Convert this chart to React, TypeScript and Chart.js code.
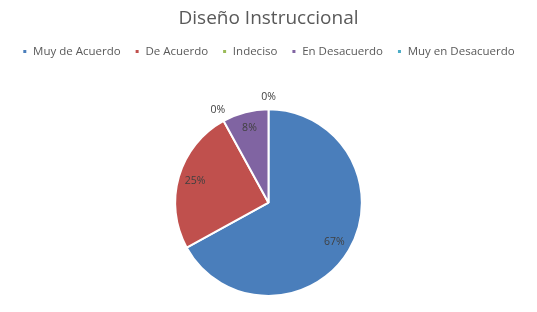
import React, { useEffect, useRef } from "react";
import { Chart, registerables } from "chart.js";

Chart.register(...registerables);

const categories = ["Muy de Acuerdo", "De Acuerdo", "Indeciso", "En Desacuerdo", "Muy en Desacuerdo"];
const values = [67, 25, 0, 8, 0];
const colors = ["#4A7EBB", "#C0504D", "#9BBB59", "#8064A2", "#4BACC6"];
const chartTitle = "Diseño Instruccional";

const FONT = "'Open Sans', 'Liberation Sans', sans-serif";

const labelPlugin = {
  id: "pctLabels",
  afterDatasetsDraw(chart: any) {
    const ctx = chart.ctx;
    const meta = chart.getDatasetMeta(0);
    const data = chart.data.datasets[0].data as number[];
    const total = data.reduce((a: number, b: number) => a + b, 0);
    ctx.save();
    ctx.font = `10.5px ${FONT}`;
    ctx.fillStyle = "#404040";
    ctx.textAlign = "center";
    ctx.textBaseline = "middle";
    meta.data.forEach((arc: any, i: number) => {
      const p = arc.getProps(["x", "y", "startAngle", "endAngle", "outerRadius"], true);
      const mid = (p.startAngle + p.endAngle) / 2;
      const v = data[i];
      const r = v === 0 ? p.outerRadius + 12 : p.outerRadius * 0.82;
      const x = p.x + Math.cos(mid) * r;
      const y = p.y + Math.sin(mid) * r;
      ctx.fillText(Math.round((v / total) * 100) + "%", x, y);
    });
    ctx.restore();
  },
};

const legendGap = {
  id: "legendGap",
  beforeInit(chart: any) {
    const legend = chart.legend;
    const origFit = legend.fit;
    legend.fit = function () {
      origFit.call(this);
      this.height += 41;
    };
  },
};

export default function App() {
  const ref = useRef<HTMLCanvasElement>(null);
  useEffect(() => {
    document.body.style.margin = "0";
    const chart = new Chart(ref.current!, {
      type: "pie",
      data: {
        labels: categories,
        datasets: [
          {
            data: values,
            backgroundColor: colors,
            borderColor: "#ffffff",
            borderWidth: 2,
          },
        ],
      },
      options: {
        animation: false,
        responsive: false,
        layout: { padding: { top: 0, bottom: 15, left: 0, right: 0 } },
        plugins: {
          title: {
            display: true,
            text: chartTitle,
            color: "#595959",
            font: { family: FONT, size: 19, weight: "normal" },
            padding: { top: 7, bottom: 2 },
          },
          legend: {
            display: true,
            position: "top",
            labels: {
              color: "#595959",
              font: { family: FONT, size: 11.5 },
              usePointStyle: true,
              pointStyle: "rect",
              boxWidth: 5,
              boxHeight: 5,
              padding: 14,
            },
          },
          tooltip: { enabled: false },
        },
      },
      plugins: [labelPlugin, legendGap],
    });
    return () => chart.destroy();
  }, []);
  return (
    <div style={{ width: 537, height: 312, background: "#fff" }}>
      <canvas ref={ref} width={537} height={312} />
    </div>
  );
}
